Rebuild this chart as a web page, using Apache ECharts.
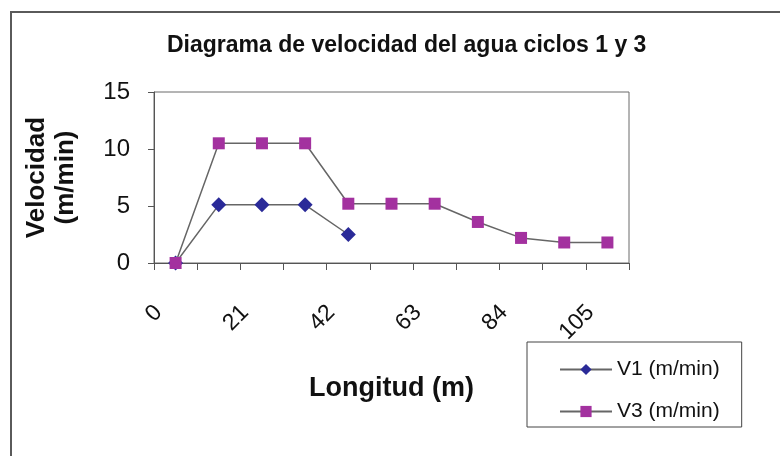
<!DOCTYPE html>
<html>
<head>
<meta charset="utf-8">
<script src="https://cdn.jsdelivr.net/npm/echarts@6/dist/echarts.min.js"></script>
<style>
html,body{margin:0;padding:0;background:#fff;}
#chart{width:780px;height:456px;}
</style>
</head>
<body>
<div id="chart"></div>
<script>
const categories = ['0','10.5','21','31.5','42','52.5','63','73.5','84','94.5','105'];
const v1 = [0, 5.1, 5.1, 5.1, 2.5, '-', '-', '-', '-', '-', '-'];
const v3 = [0, 10.5, 10.5, 10.5, 5.2, 5.2, 5.2, 3.6, 2.2, 1.8, 1.8];
const seriesNames = ['V1 (m/min)', 'V3 (m/min)'];
const yTicks = { min: 0, max: 15, interval: 5 };

const FONT = '"Liberation Sans", Arial, sans-serif';
const chart = echarts.init(document.getElementById('chart'), null, { renderer: 'canvas' });
chart.setOption({
  animation: false,
  backgroundColor: '#ffffff',
  textStyle: { fontFamily: FONT },
  graphic: [{
    type: 'rect',
    shape: { x: 11, y: 12, width: 800, height: 500 },
    style: { fill: null, stroke: '#5a5a5a', lineWidth: 2 },
    silent: true
  }],
  title: {
    text: 'Diagrama de velocidad del agua ciclos 1 y 3',
    left: 162, top: 29,
    textStyle: { fontFamily: FONT, fontSize: 23, fontWeight: 'bold', color: '#111' }
  },
  legend: {
    orient: 'vertical',
    left: 527, top: 342,
    padding: [17, 22, 5, 32],
    itemGap: 21,
    itemWidth: 52, itemHeight: 14,
    borderColor: '#444', borderWidth: 1,
    backgroundColor: '#fff',
    textStyle: { fontFamily: FONT, fontSize: 21, color: '#111' },
    data: seriesNames
  },
  grid: {
    left: 154, right: 151, top: 92, bottom: 193,
    show: true, borderColor: '#6a6a6a', borderWidth: 1, backgroundColor: 'transparent'
  },
  xAxis: {
    type: 'category',
    data: categories,
    boundaryGap: true,
    name: 'Longitud (m)',
    nameLocation: 'middle',
    nameGap: 112,
    nameTextStyle: { fontFamily: FONT, fontSize: 27, fontWeight: 'bold', color: '#111' },
    axisLine: { lineStyle: { color: '#555', width: 1 } },
    axisTick: { show: true, interval: 0, length: 7, lineStyle: { color: '#555' } },
    axisLabel: {
      interval: 1, rotate: 45, margin: 29,
      padding: [0, 24, 0, 0],
      fontFamily: FONT, fontSize: 23, color: '#111'
    },
    splitLine: { show: false }
  },
  yAxis: {
    type: 'value',
    min: yTicks.min, max: yTicks.max, interval: yTicks.interval,
    name: 'Velocidad\n(m/min)',
    nameLocation: 'middle',
    nameRotate: 90,
    nameGap: 74,
    nameTextStyle: { fontFamily: FONT, fontSize: 26, fontWeight: 'bold', color: '#111', lineHeight: 29 },
    axisLine: { show: true, lineStyle: { color: '#555', width: 1 } },
    axisTick: { show: true, length: 6, lineStyle: { color: '#555' } },
    axisLabel: { margin: 24, fontFamily: FONT, fontSize: 24, color: '#111' },
    splitLine: { show: false }
  },
  series: [
    {
      name: seriesNames[0], type: 'line', data: v1,
      symbol: 'diamond', symbolSize: 15,
      lineStyle: { color: '#666', width: 1.5 },
      itemStyle: { color: '#2a2a98' },
      connectNulls: false
    },
    {
      name: seriesNames[1], type: 'line', data: v3,
      symbol: 'rect', symbolSize: 12,
      lineStyle: { color: '#666', width: 1.5 },
      itemStyle: { color: '#a3319f' }
    }
  ]
});
</script>
</body>
</html>
